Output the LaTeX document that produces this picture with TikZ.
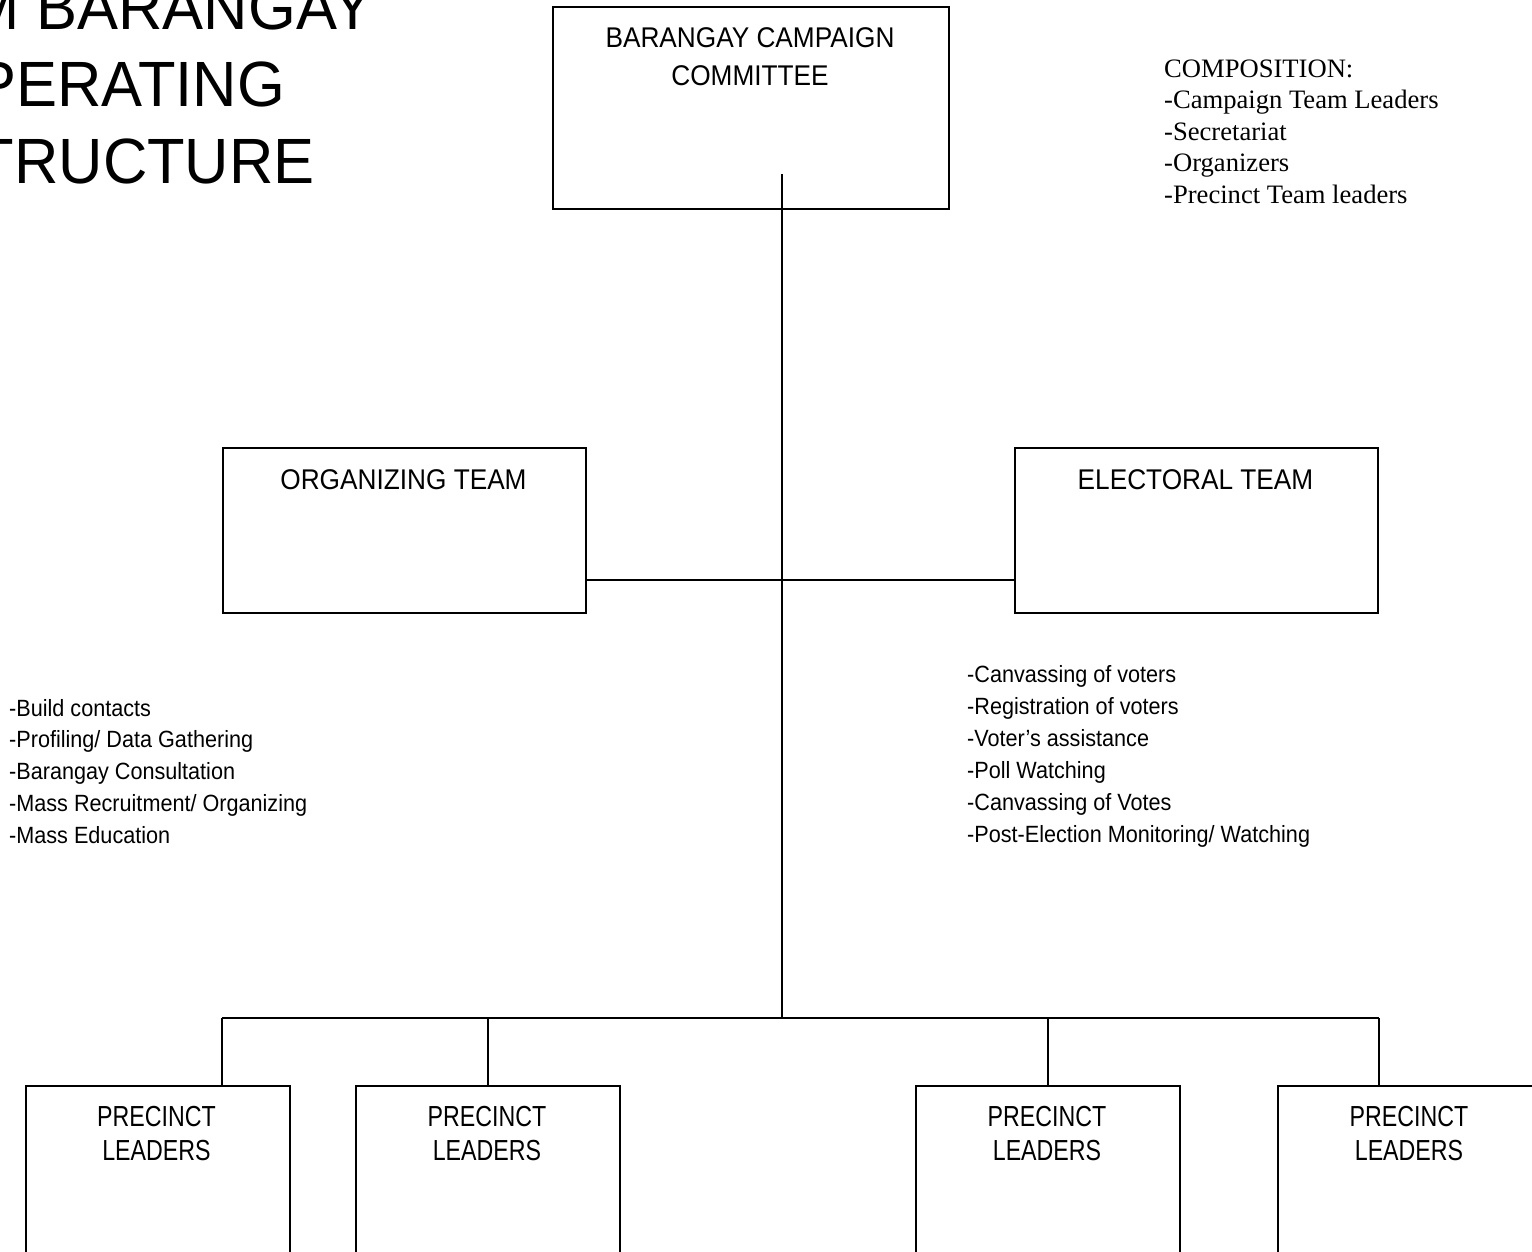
\documentclass[tikz,border=0pt]{standalone}
\usepackage{fontspec}
\newfontfamily\titlefont[FakeStretch=0.96]{Liberation Sans}
\newfontfamily\labelfont[FakeStretch=0.92]{Liberation Sans}
\newfontfamily\narrowfont[FakeStretch=0.80]{Liberation Sans}
\newfontfamily\serifont{Liberation Serif}

\tikzset{
  box/.style={draw=black, line width=2pt, inner sep=0pt, anchor=north west},
  conn/.style={draw=black, line width=2pt},
  titletext/.style={anchor=base west, inner sep=0pt, font=\titlefont\fontsize{64}{77}\selectfont},
  boxlabel/.style={anchor=base, inner sep=0pt, font=\labelfont\fontsize{28.5}{34}\selectfont},
  leaderlabel/.style={anchor=base, inner sep=0pt, font=\narrowfont\fontsize{29}{34}\selectfont},
  tasktext/.style={anchor=base west, inner sep=0pt, font=\labelfont\fontsize{23.5}{32}\selectfont},
  comptext/.style={anchor=base west, inner sep=0pt, font=\serifont\fontsize{26.6}{31.5}\selectfont},
}

\begin{document}
\begin{tikzpicture}[x=1pt,y=-1pt]
\useasboundingbox (0,0) rectangle (1532,1251);
\fill[white] (0,0) rectangle (1532,1251);
\clip (0,0) rectangle (1532,1251);

% title, running off the upper left corner
\node[titletext] (title1) at (-31.8,29.3) {M BARANGAY};
\node[titletext] (title2) at (-24.9,106) {PERATING};
\node[titletext] (title3) at (-23.4,183) {TRUCTURE};

% committee box
\node[box, minimum width=396pt, minimum height=202pt] (bcc) at (552,6) {};
\node[boxlabel] (bccl1) at (750,47) {BARANGAY CAMPAIGN};
\node[boxlabel] (bccl2) at (750,85) {COMMITTEE};

% composition list
\foreach \txt [count=\i from 0] in {COMPOSITION:, -Campaign Team Leaders, -Secretariat, -Organizers, -Precinct Team leaders}
  \node[comptext] (comp\i) at (1164,77+31.5*\i) {\txt};

% team boxes
\node[box, minimum width=363pt, minimum height=165pt] (org) at (222,447) {};
\node[boxlabel] (orgl) at (403.5,489) {ORGANIZING TEAM};
\node[box, minimum width=363pt, minimum height=165pt] (ele) at (1014,447) {};
\node[boxlabel] (elel) at (1195.5,489) {ELECTORAL TEAM};

% team tasks
\foreach \txt [count=\i from 0] in {-Build contacts, -Profiling/ Data Gathering, -Barangay Consultation, -Mass Recruitment/ Organizing, -Mass Education}
  \node[tasktext] (orgtask\i) at (9,716+31.8*\i) {\txt};
\foreach \txt [count=\i from 0] in {-Canvassing of voters, -Registration of voters, -Voter’s assistance, -Poll Watching, -Canvassing of Votes, -Post-Election Monitoring/ Watching}
  \node[tasktext] (eletask\i) at (967,682+32*\i) {\txt};

% precinct boxes, running off the lower edge
\foreach \x [count=\i] in {24.5,355,915,1277} {
  \node[box, minimum width=264pt, minimum height=260pt] (p\i) at (\x,1085) {};
  \node[leaderlabel] (p\i a) at ([xshift=132pt]\x,1126) {PRECINCT};
  \node[leaderlabel] (p\i b) at ([xshift=132pt]\x,1160) {LEADERS};
}

% connectors
\coordinate (trunktop) at (782,174);
\coordinate (bus) at (782,1018);
\draw[conn] (trunktop) -- (bus);
\draw[conn] ([yshift=34pt]org.south east) -- ([yshift=34pt]ele.south west);
\draw[conn] (org.south west |- bus) -- (ele.south east |- bus);
\draw[conn] (org.south west |- bus) -- (org.south west |- p1.north);
\draw[conn] (p2.north |- bus) -- (p2.north);
\draw[conn] (p3.north |- bus) -- (p3.north);
\draw[conn] (ele.south east |- bus) -- (ele.south east |- p4.north);
\end{tikzpicture}
\end{document}
